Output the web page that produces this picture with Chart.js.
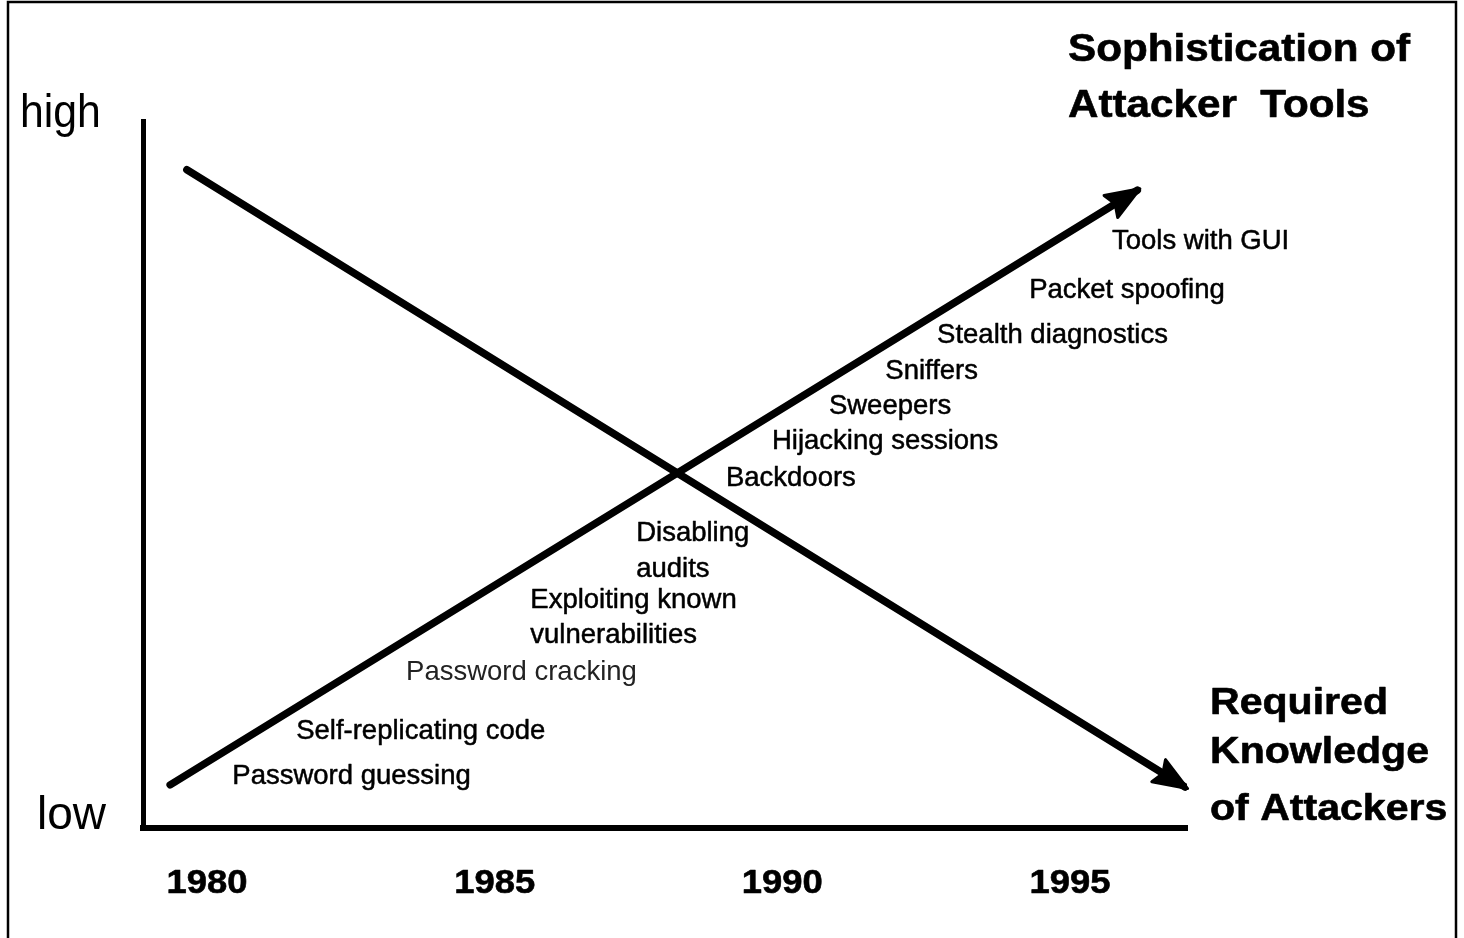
<!DOCTYPE html>
<html><head><meta charset="utf-8">
<script src="https://cdn.jsdelivr.net/npm/chart.js@4/dist/chart.umd.min.js"></script>
<style>html,body{margin:0;padding:0;background:#fff;overflow:hidden}#wrap{width:1464px;height:938px;position:relative}</style>
</head><body><div id="wrap"><canvas id="c" width="1464" height="938"></canvas></div>
<script>
// ---- data ----
const tickYears = [1980, 1985, 1990, 1995];
const sophYears = [1979.36, 1996.17];
const sophLevels = [6.1, 90.2];
const knowYears = [1979.65, 1997.0];
const knowLevels = [93.1, 5.8];
const toolLabels = ["Tools with GUI", "Packet spoofing", "Stealth diagnostics", "Sniffers", "Sweepers",
  "Hijacking sessions", "Backdoors", "Disabling", "audits", "Exploiting known", "vulnerabilities",
  "Password cracking", "Self-replicating code", "Password guessing"];
const toolYears = [1995.73, 1994.29, 1992.69, 1991.79, 1990.81, 1989.82, 1989.02, 1987.46, 1987.46,
  1985.62, 1985.62, 1983.46, 1981.55, 1980.44];
const toolLevels = [83.45, 76.52, 70.16, 65.06, 60.11, 55.16, 49.93, 42.15, 37.06, 32.67, 27.72,
  22.49, 14.14, 7.78];
const axisHigh = "high", axisLow = "low";
const titleTop = ["Sophistication of", "Attacker  Tools"];
const titleBottom = ["Required", "Knowledge", "of Attackers"];

const FAM = '"Liberation Sans", Arial, Helvetica, sans-serif';
const DY = 3;
function pts(xs, ys) { return xs.map((x, i) => ({x: x, y: ys[i]})); }
function txt(ctx, s, x, y, font, sx, align, color, sw) {
  ctx.save(); ctx.font = font; ctx.textBaseline = 'middle'; ctx.textAlign = align || 'left';
  ctx.fillStyle = color || '#000'; ctx.strokeStyle = color || '#000';
  ctx.translate(x, y + DY); ctx.scale(sx, 1); ctx.fillText(s, 0, 0);
  if (sw) { ctx.lineWidth = sw; ctx.lineJoin = 'round'; ctx.strokeText(s, 0, 0); }
  ctx.restore();
}

const framePlugin = {
  id: 'frame',
  beforeDraw(chart) {
    const ctx = chart.ctx;
    ctx.save(); ctx.fillStyle = '#fff'; ctx.fillRect(0, 0, chart.width, chart.height);
    ctx.strokeStyle = '#000'; ctx.lineWidth = 2.5;
    ctx.beginPath(); ctx.moveTo(8, 940); ctx.lineTo(8, 2); ctx.lineTo(1456, 2); ctx.lineTo(1456, 940); ctx.stroke();
    ctx.restore();
  }
};
const arrowPlugin = {
  id: 'arrows',
  afterDatasetsDraw(chart) {
    const ctx = chart.ctx;
    chart.data.datasets.forEach((ds, i) => {
      const els = chart.getDatasetMeta(i).data;
      const a = els[els.length - 2], b = els[els.length - 1];
      const ang = Math.atan2(b.y - a.y, b.x - a.x);
      const L = 34, W = 13, ext = 3;
      const tx = b.x + Math.cos(ang) * ext, ty = b.y + Math.sin(ang) * ext;
      ctx.save(); ctx.translate(tx, ty); ctx.rotate(ang);
      ctx.fillStyle = '#000'; ctx.strokeStyle = '#000'; ctx.lineWidth = 3; ctx.lineJoin = 'round';
      ctx.beginPath();
      ctx.moveTo(0, 0); ctx.lineTo(-L, -W); ctx.lineTo(-L + 5, 0); ctx.lineTo(-L, W); ctx.closePath();
      ctx.fill(); ctx.stroke();
      ctx.restore();
    });
  }
};
const textPlugin = {
  id: 'texts',
  afterDraw(chart) {
    const ctx = chart.ctx, xs = chart.scales.x, ys = chart.scales.y;
    const lab = '27.5px ' + FAM;
    toolLabels.forEach((s, i) => {
      txt(ctx, s, xs.getPixelForValue(toolYears[i]), ys.getPixelForValue(toolLevels[i]), lab, 1.0, 'left',
        s === 'Password cracking' ? '#222' : '#000', s === 'Password cracking' ? 0 : 0.5);
    });
    tickYears.forEach(yr => {
      txt(ctx, String(yr), xs.getPixelForValue(yr), 881, 'bold 34px ' + FAM, 1.07, 'center', '#000', 0.6);
    });
    txt(ctx, axisHigh, 20, 111, '46px ' + FAM, 0.93, 'left');
    txt(ctx, axisLow, 37, 813, '46px ' + FAM, 1.0, 'left');
    const tf = 'bold 38px ' + FAM;
    txt(ctx, titleTop[0], 1068, 48, tf, 1.11, 'left', '#000', 0.6);
    txt(ctx, titleTop[1], 1068, 104, tf, 1.11, 'left', '#000', 0.6);
    const bf = 'bold 37px ' + FAM;
    txt(ctx, titleBottom[0], 1210, 701, bf, 1.11, 'left', '#000', 0.6);
    txt(ctx, titleBottom[1], 1210, 750, bf, 1.11, 'left', '#000', 0.6);
    txt(ctx, titleBottom[2], 1210, 807, bf, 1.11, 'left', '#000', 0.6);
  }
};

new Chart(document.getElementById('c'), {
  type: 'scatter',
  data: {
    datasets: [
      {label: 'Sophistication of Attacker Tools', data: pts(sophYears, sophLevels), showLine: true,
       borderColor: '#000', borderWidth: 7.5, pointRadius: 0, borderCapStyle: 'round', tension: 0},
      {label: 'Required Knowledge of Attackers', data: pts(knowYears, knowLevels), showLine: true,
       borderColor: '#000', borderWidth: 7.5, pointRadius: 0, borderCapStyle: 'round', tension: 0}
    ]
  },
  options: {
    responsive: false, animation: false, devicePixelRatio: 1,
    layout: {padding: {top: 121, right: 277, left: 0, bottom: 0}},
    plugins: {legend: {display: false}, tooltip: {enabled: false}},
    scales: {
      x: {type: 'linear', min: 1978.888, max: 1997.034, grid: {display: false, drawTicks: false},
          border: {display: true, color: '#000', width: 6}, ticks: {display: false},
          afterFit: s => { s.height = 110; }},
      y: {type: 'linear', min: 0, max: 100, grid: {display: false, drawTicks: false},
          border: {display: true, color: '#000', width: 5}, ticks: {display: false},
          afterFit: s => { s.width = 143; }}
    }
  },
  plugins: [framePlugin, arrowPlugin, textPlugin]
});
</script></body></html>
